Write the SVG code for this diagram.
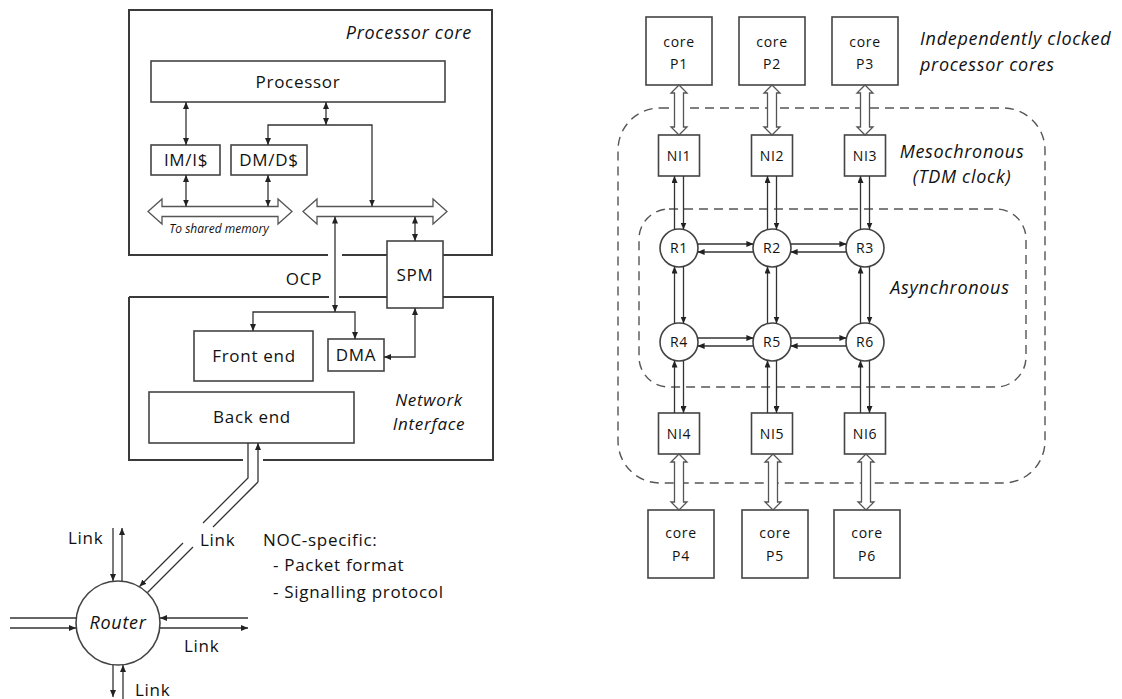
<svg xmlns="http://www.w3.org/2000/svg" width="1122" height="699" viewBox="0 0 1122 699">
<defs>
<marker id="ah" viewBox="0 0 7 6" refX="7" refY="3" markerWidth="7" markerHeight="6" markerUnits="userSpaceOnUse" orient="auto-start-reverse"><path d="M0,0 L7,3 L0,6 z" fill="#222"/></marker>
<style>
.box{fill:#fff;stroke:#444;stroke-width:1.6}
.frame{fill:none;stroke:#3a3a3a;stroke-width:2}
.ln{fill:none;stroke:#333;stroke-width:1.3}
.a1{marker-end:url(#ah)}
.a2{marker-start:url(#ah);marker-end:url(#ah)}
.hol{fill:#fff;stroke:#555;stroke-width:1.3}
.dash{fill:none;stroke:#555;stroke-width:1.4;stroke-dasharray:9 6}
text{font-family:"Open Sans","DejaVu Sans",sans-serif;fill:#111}
.t{font-size:17px;letter-spacing:0.7px}
.tc{text-anchor:middle}
.it{font-style:italic;font-size:18px}
.s{font-size:14px;letter-spacing:0.7px;text-anchor:middle}
</style>
</defs>
<rect width="1122" height="699" fill="#fff"/>

<!-- LEFT: processor core frame -->
<g id="processor-core">
<path class="frame" d="M443,255 H492 V10 H129 V255 H328 M342,255 H387"/>
<text class="t it" x="472" y="39" text-anchor="end">Processor core</text>
</g>
<g id="processor"><rect class="box" x="151" y="61" width="294" height="41"/><text class="t tc" x="298" y="88">Processor</text></g>
<g id="im"><rect class="box" x="151" y="145" width="69" height="30"/><text class="t tc" x="186" y="166">IM/I$</text></g>
<g id="dm"><rect class="box" x="231" y="145" width="76" height="30"/><text class="t tc" x="269" y="166">DM/D$</text></g>
<g id="bus-shared">
<polygon class="hol" points="148,211.5 162,199 162,206.5 278,206.5 278,199 292,211.5 278,224 278,216.5 162,216.5 162,224"/>
<text x="219" y="233" font-size="12" font-style="italic" text-anchor="middle">To shared memory</text>
</g>
<g id="bus-local">
<polygon class="hol" points="303,211.5 317,199 317,206.5 433,206.5 433,199 447,211.5 433,224 433,216.5 317,216.5 317,224"/>
</g>
<g id="spm"><rect class="box" x="387" y="241" width="56" height="67"/><text class="t tc" x="415" y="281">SPM</text></g>
<g id="ocp-label"><text class="t tc" x="304" y="285">OCP</text></g>

<!-- Network interface frame -->
<g id="network-interface">
<path class="frame" d="M129,297 H329 M339,297 H387 M443,297 H493 V460 H263 M243,460 H129 V297"/>
<text class="t tc" x="429" y="406" font-style="italic">Network</text>
<text class="t tc" x="429" y="430" font-style="italic">Interface</text>
</g>
<g id="front-end"><rect class="box" x="194" y="331" width="119" height="50"/><text class="t tc" x="254" y="362">Front end</text></g>
<g id="dma"><rect class="box" x="328" y="339" width="56" height="32"/><text class="t tc" x="356" y="361">DMA</text></g>
<g id="back-end"><rect class="box" x="149" y="392" width="205" height="51"/><text class="t tc" x="252" y="423">Back end</text></g>

<!-- Router -->
<g id="router">
<circle class="box" cx="118" cy="623" r="42"/>
<text class="t it tc" x="118" y="629">Router</text>
</g>
<g id="link-labels">
<text class="t" x="68" y="544">Link</text>
<text class="t" x="200" y="546">Link</text>
<text class="t" x="184" y="652">Link</text>
<text class="t" x="135" y="696">Link</text>
</g>
<g id="noc-note">
<text class="t" x="263" y="546">NOC-specific:</text>
<text class="t" x="273" y="571">- Packet format</text>
<text class="t" x="273" y="598">- Signalling protocol</text>
</g>

<!-- connectors left -->
<g id="connectors-left">
<path class="ln a2" d="M186,102 V145"/>
<path class="ln a2" d="M326,102 V125"/>
<path class="ln a2" d="M268,145 V125 H372 V206.5"/>
<path class="ln a2" d="M186,175 V206.5"/>
<path class="ln a2" d="M268,175 V206.5"/>
<path class="ln a2" d="M335,216.5 V312"/>
<path class="ln a2" d="M253,331 V312 H355 V339"/>
<path class="ln a2" d="M415,216.5 V241"/>
<path class="ln a2" d="M415,308 V357 H384"/>
<path class="ln" d="M248,443 V478 L203,523"/>
<path class="ln a1" d="M183,543 L139.5,586.5"/>
<path class="ln" d="M258,482 L213,527"/>
<path class="ln a1" d="M258,482 V443"/>
<path class="ln" d="M193,547 L147.5,592.5"/>
<path class="ln a1" d="M113,528 V581"/>
<path class="ln a1" d="M122,581 V528"/>
<path class="ln" d="M10,618 H77"/>
<path class="ln a1" d="M10,628 H76"/>
<path class="ln a1" d="M248,618 H160"/>
<path class="ln a1" d="M160,628 H248"/>
<path class="ln a1" d="M113,665 V697"/>
<path class="ln a1" d="M123,699 V665"/>
</g>

<!-- RIGHT -->
<g id="regions">
<rect class="dash" x="618" y="108" width="427" height="375" rx="42"/>
<rect class="dash" x="639" y="209" width="387" height="178" rx="30"/>
<text class="t it" x="920" y="45">Independently clocked</text>
<text class="t it" x="920" y="71">processor cores</text>
<text class="t it tc" x="962" y="158">Mesochronous</text>
<text class="t it tc" x="962" y="183">(TDM clock)</text>
<text class="t it tc" x="950" y="294">Asynchronous</text>
</g>

<g id="core-p1"><rect class="box" x="646" y="17" width="66" height="68"/><text class="s" x="679" y="47">core</text><text class="s" x="679" y="69">P1</text></g>
<g id="core-p2"><rect class="box" x="739" y="17" width="66" height="68"/><text class="s" x="772" y="47">core</text><text class="s" x="772" y="69">P2</text></g>
<g id="core-p3"><rect class="box" x="832" y="17" width="66" height="68"/><text class="s" x="865" y="47">core</text><text class="s" x="865" y="69">P3</text></g>
<g id="core-p4"><rect class="box" x="648" y="510" width="66" height="68"/><text class="s" x="681" y="538">core</text><text class="s" x="681" y="561">P4</text></g>
<g id="core-p5"><rect class="box" x="742" y="510" width="66" height="68"/><text class="s" x="775" y="538">core</text><text class="s" x="775" y="561">P5</text></g>
<g id="core-p6"><rect class="box" x="834" y="510" width="66" height="68"/><text class="s" x="867" y="538">core</text><text class="s" x="867" y="561">P6</text></g>

<g id="ni1"><rect class="box" x="658.5" y="135" width="41" height="41"/><text class="s" x="679" y="161">NI1</text></g>
<g id="ni2"><rect class="box" x="751.5" y="135" width="41" height="41"/><text class="s" x="772" y="161">NI2</text></g>
<g id="ni3"><rect class="box" x="844.5" y="135" width="41" height="41"/><text class="s" x="865" y="161">NI3</text></g>
<g id="ni4"><rect class="box" x="658.5" y="413" width="41" height="41"/><text class="s" x="679" y="439">NI4</text></g>
<g id="ni5"><rect class="box" x="751.5" y="413" width="41" height="41"/><text class="s" x="772" y="439">NI5</text></g>
<g id="ni6"><rect class="box" x="844.5" y="413" width="41" height="41"/><text class="s" x="865" y="439">NI6</text></g>

<g id="r1"><circle class="box" cx="679" cy="248" r="19"/><text class="s" x="679" y="253">R1</text></g>
<g id="r2"><circle class="box" cx="772" cy="248" r="19"/><text class="s" x="772" y="253">R2</text></g>
<g id="r3"><circle class="box" cx="865" cy="248" r="19"/><text class="s" x="865" y="253">R3</text></g>
<g id="r4"><circle class="box" cx="679" cy="342" r="19"/><text class="s" x="679" y="347">R4</text></g>
<g id="r5"><circle class="box" cx="772" cy="342" r="19"/><text class="s" x="772" y="347">R5</text></g>
<g id="r6"><circle class="box" cx="865" cy="342" r="19"/><text class="s" x="865" y="347">R6</text></g>

<g id="connectors-right">
<polygon class="hol" points="679,85 687,93 683.5,93 683.5,127 687,127 679,135 671,127 674.5,127 674.5,93 671,93"/>
<polygon class="hol" points="772,85 780,93 776.5,93 776.5,127 780,127 772,135 764,127 767.5,127 767.5,93 764,93"/>
<polygon class="hol" points="865,85 873,93 869.5,93 869.5,127 873,127 865,135 857,127 860.5,127 860.5,93 857,93"/>
<polygon class="hol" points="679,454 687,462 683.5,462 683.5,502 687,502 679,510 671,502 674.5,502 674.5,462 671,462"/>
<polygon class="hol" points="773,454 781,462 777.5,462 777.5,502 781,502 773,510 765,502 768.5,502 768.5,462 765,462"/>
<polygon class="hol" points="866,454 874,462 870.5,462 870.5,502 874,502 866,510 858,502 861.5,502 861.5,462 858,462"/>
<path class="ln a1" d="M674.5,229.5 V176"/><path class="ln a1" d="M683.5,176 V229.5"/>
<path class="ln a1" d="M674.5,323.5 V266.5"/><path class="ln a1" d="M683.5,266.5 V323.5"/>
<path class="ln a1" d="M674.5,413 V360.5"/><path class="ln a1" d="M683.5,360.5 V413"/>
<path class="ln a1" d="M767.5,229.5 V176"/><path class="ln a1" d="M776.5,176 V229.5"/>
<path class="ln a1" d="M767.5,323.5 V266.5"/><path class="ln a1" d="M776.5,266.5 V323.5"/>
<path class="ln a1" d="M767.5,413 V360.5"/><path class="ln a1" d="M776.5,360.5 V413"/>
<path class="ln a1" d="M860.5,229.5 V176"/><path class="ln a1" d="M869.5,176 V229.5"/>
<path class="ln a1" d="M860.5,323.5 V266.5"/><path class="ln a1" d="M869.5,266.5 V323.5"/>
<path class="ln a1" d="M860.5,413 V360.5"/><path class="ln a1" d="M869.5,360.5 V413"/>
<path class="ln a1" d="M697.6,244 H753.4"/><path class="ln a1" d="M753.4,252 H697.6"/>
<path class="ln a1" d="M790.6,244 H846.4"/><path class="ln a1" d="M846.4,252 H790.6"/>
<path class="ln a1" d="M697.6,338 H753.4"/><path class="ln a1" d="M753.4,346 H697.6"/>
<path class="ln a1" d="M790.6,338 H846.4"/><path class="ln a1" d="M846.4,346 H790.6"/>
</g>
</svg>
